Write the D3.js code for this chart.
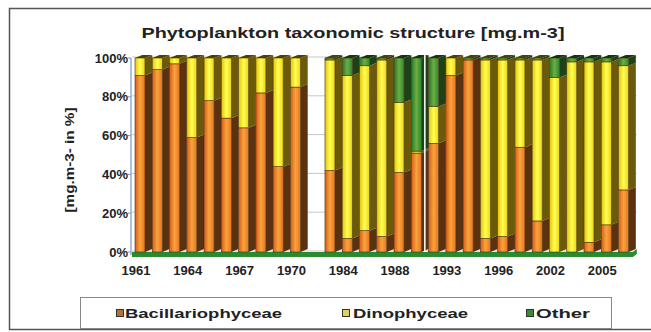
<!DOCTYPE html>
<html>
<head>
<meta charset="utf-8">
<script src="https://cdn.jsdelivr.net/npm/d3@7"></script>
<style>
  body { margin: 0; background: #fff; }
  svg { display: block; }
  text { font-family: "Liberation Sans", Arial, sans-serif; font-weight: bold; fill: #222; }
</style>
</head>
<body>
<svg width="651" height="332"></svg>
<script>
// categories (every 3rd one gets a label, like the excel axis)
const years = ["1961","1962","1963","1964","1965","1966","1967","1968","1969","1970",
  "1975","1983","1984","1985","1986","1988","1989","1992","1993","1994","1995",
  "1996","1998","2001","2002","2003","2004","2005","2006"];

// shares in % (null = no sample that year)
const bacillariophyceae = [91,94,97,59,78,69,64,82,44,85,null,42,7,11,8,41,51,56,91,99,7,8,54,16,0,0,5,14,32];
const dinophyceae       = [9,6,3,41,22,31,36,18,56,15,null,57,84,85,91,36,1,19,9,0,92,91,45,83,90,98,93,84,64];
const other             = [0,0,0,0,0,0,0,0,0,0,null,1,9,4,1,23,48,25,0,1,1,1,1,1,10,2,2,2,4];

const yTicks = [0, 20, 40, 60, 80, 100];
const seriesNames = ["Bacillariophyceae", "Dinophyceae", "Other"];

const rows = years.map((y, i) => ({
  year: y,
  Bacillariophyceae: bacillariophyceae[i],
  Dinophyceae: dinophyceae[i],
  Other: other[i]
}));

const svg = d3.select("svg");

// outer chart frame
svg.append("rect")
  .attr("x", 9.5).attr("y", 8.5)
  .attr("width", 680).attr("height", 321)
  .attr("fill", "none").attr("stroke", "#555").attr("stroke-width", 1.5);

const bandW = 17.27;
const x = d3.scaleBand()
  .domain(years)
  .range([132, 132 + bandW * years.length])
  .padding(0);
const y = d3.scaleLinear().domain([0, 100]).range([252, 58]);

const frontW = 10, depthX = bandW - frontW, depthY = 3;

// colours: front gradient stops + side/top shade
const palette = {
  Bacillariophyceae: { stops: ["#dc5a18", "#f8a43c", "#e67422"], side: "#5a3210", top: "#4a2a0c" },
  Dinophyceae:       { stops: ["#e6c400", "#ffff55", "#eed412"], side: "#6a5a0a", top: "#4c4008" },
  Other:             { stops: ["#1f7a2a", "#70ac42", "#2a8a30"], side: "#1d4218", top: "#163412" }
};

const defs = svg.append("defs");
seriesNames.forEach(k => {
  const g = defs.append("linearGradient").attr("id", "g-" + k)
    .attr("x1", 0).attr("x2", 1).attr("y1", 0).attr("y2", 0);
  palette[k].stops.forEach((c, i) => g.append("stop").attr("offset", i / 2).attr("stop-color", c));
});

// back wall gridlines (only show through the empty year)
svg.append("g").selectAll("line")
  .data(yTicks)
  .enter().append("line")
  .attr("x1", 132).attr("x2", x.range()[1] + 4)
  .attr("y1", d => y(d) - 1).attr("y2", d => y(d) - 1)
  .attr("stroke", "#c8c8c8").attr("stroke-width", 1);

// green floor strip
const x0 = x.range()[0], x1 = x.range()[1];
svg.append("path")
  .attr("d", `M${x0},${y(0)} L${x1},${y(0)} L${x1 + 4},${y(0) - depthY} L${x1 + 4},${y(0) + 2} L${x1},${y(0) + 5} L${x0},${y(0) + 5} Z`)
  .attr("fill", "#2a8a30");

const stack = d3.stack().keys(seriesNames);
const stacked = stack(rows.filter(r => r.Bacillariophyceae !== null));

const bars = svg.append("g");
stacked.forEach(layer => {
  const k = layer.key;
  const g = bars.append("g");
  layer.filter(d => d[1] - d[0] > 0).forEach(d => {
    const fx = x(d.data.year) + 3;
    const yt = y(d[1]), yb = y(d[0]);
    // side face
    g.append("path")
      .attr("d", `M${fx + frontW},${yb} L${fx + frontW + depthX},${yb - depthY} L${fx + frontW + depthX},${yt - depthY} L${fx + frontW},${yt} Z`)
      .attr("fill", palette[k].side);
    // front face
    g.append("rect")
      .attr("x", fx).attr("y", yt)
      .attr("width", frontW).attr("height", yb - yt)
      .attr("fill", `url(#g-${k})`)
      .attr("stroke", "#4a3010").attr("stroke-width", 0.6);
  });
});

// top faces for each bar
svg.append("g").selectAll("path")
  .data(rows.filter(r => r.Bacillariophyceae !== null))
  .enter().append("path")
  .attr("d", d => {
    const fx = x(d.year) + 3, yt = y(100);
    return `M${fx},${yt} L${fx + frontW},${yt} L${fx + frontW + depthX},${yt - depthY} L${fx + depthX},${yt - depthY} Z`;
  })
  .attr("fill", d => d.Other >= 2 ? palette.Other.top : palette.Dinophyceae.top);

// thin white split before 1992
svg.append("rect")
  .attr("x", x("1992") - 1.5).attr("y", y(100) - depthY)
  .attr("width", 1.5).attr("height", y(0) - y(100) + depthY)
  .attr("fill", "#fff");

// y axis
svg.append("line")
  .attr("x1", 131).attr("x2", 131)
  .attr("y1", y(100)).attr("y2", y(0) + 3)
  .attr("stroke", "#7b95cc").attr("stroke-width", 1.2);

svg.append("g").selectAll("line")
  .data(yTicks)
  .enter().append("line")
  .attr("x1", 128).attr("x2", 131)
  .attr("y1", d => y(d)).attr("y2", d => y(d))
  .attr("stroke", "#7b95cc");

svg.append("g").selectAll("text")
  .data(yTicks)
  .enter().append("text")
  .attr("x", 128).attr("y", d => y(d) + 4.5)
  .attr("text-anchor", "end")
  .attr("font-size", 13)
  .text(d => d + "%");

// x labels every 3rd category
svg.append("g").selectAll("text")
  .data(years.filter((d, i) => i % 3 === 0))
  .enter().append("text")
  .attr("x", d => x(d) + 4)
  .attr("y", 275)
  .attr("text-anchor", "middle")
  .attr("font-size", 13)
  .text(d => d);

// titles
svg.append("text")
  .attr("x", 353).attr("y", 38)
  .attr("text-anchor", "middle")
  .attr("font-size", 15)
  .attr("textLength", 423).attr("lengthAdjust", "spacingAndGlyphs")
  .text("Phytoplankton taxonomic structure [mg.m-3]");

svg.append("text")
  .attr("transform", "translate(74,160) rotate(-90)")
  .attr("text-anchor", "middle")
  .attr("font-size", 12)
  .attr("textLength", 105).attr("lengthAdjust", "spacingAndGlyphs")
  .text("[mg.m-3- in %]");

// legend
svg.append("rect")
  .attr("x", 80.5).attr("y", 297.5)
  .attr("width", 531).attr("height", 31)
  .attr("fill", "#fff").attr("stroke", "#888");

const legendItems = [
  { name: "Bacillariophyceae", sq: 116, tx: 125, w: 157, fill: "#b8703a" },
  { name: "Dinophyceae", sq: 342, tx: 353, w: 115, fill: "#e2d05a" },
  { name: "Other", sq: 526, tx: 536, w: 54, fill: "#3a8a3a" }
];
const lg = svg.append("g").selectAll("g").data(legendItems).enter().append("g");
lg.append("rect")
  .attr("x", d => d.sq + 0.5).attr("y", 309.5)
  .attr("width", 7).attr("height", 7)
  .attr("fill", d => d.fill).attr("stroke", "#333").attr("stroke-width", 1);
lg.append("text")
  .attr("x", d => d.tx).attr("y", 318)
  .attr("font-size", 13)
  .attr("textLength", d => d.w).attr("lengthAdjust", "spacingAndGlyphs")
  .text(d => d.name);
</script>
</body>
</html>
